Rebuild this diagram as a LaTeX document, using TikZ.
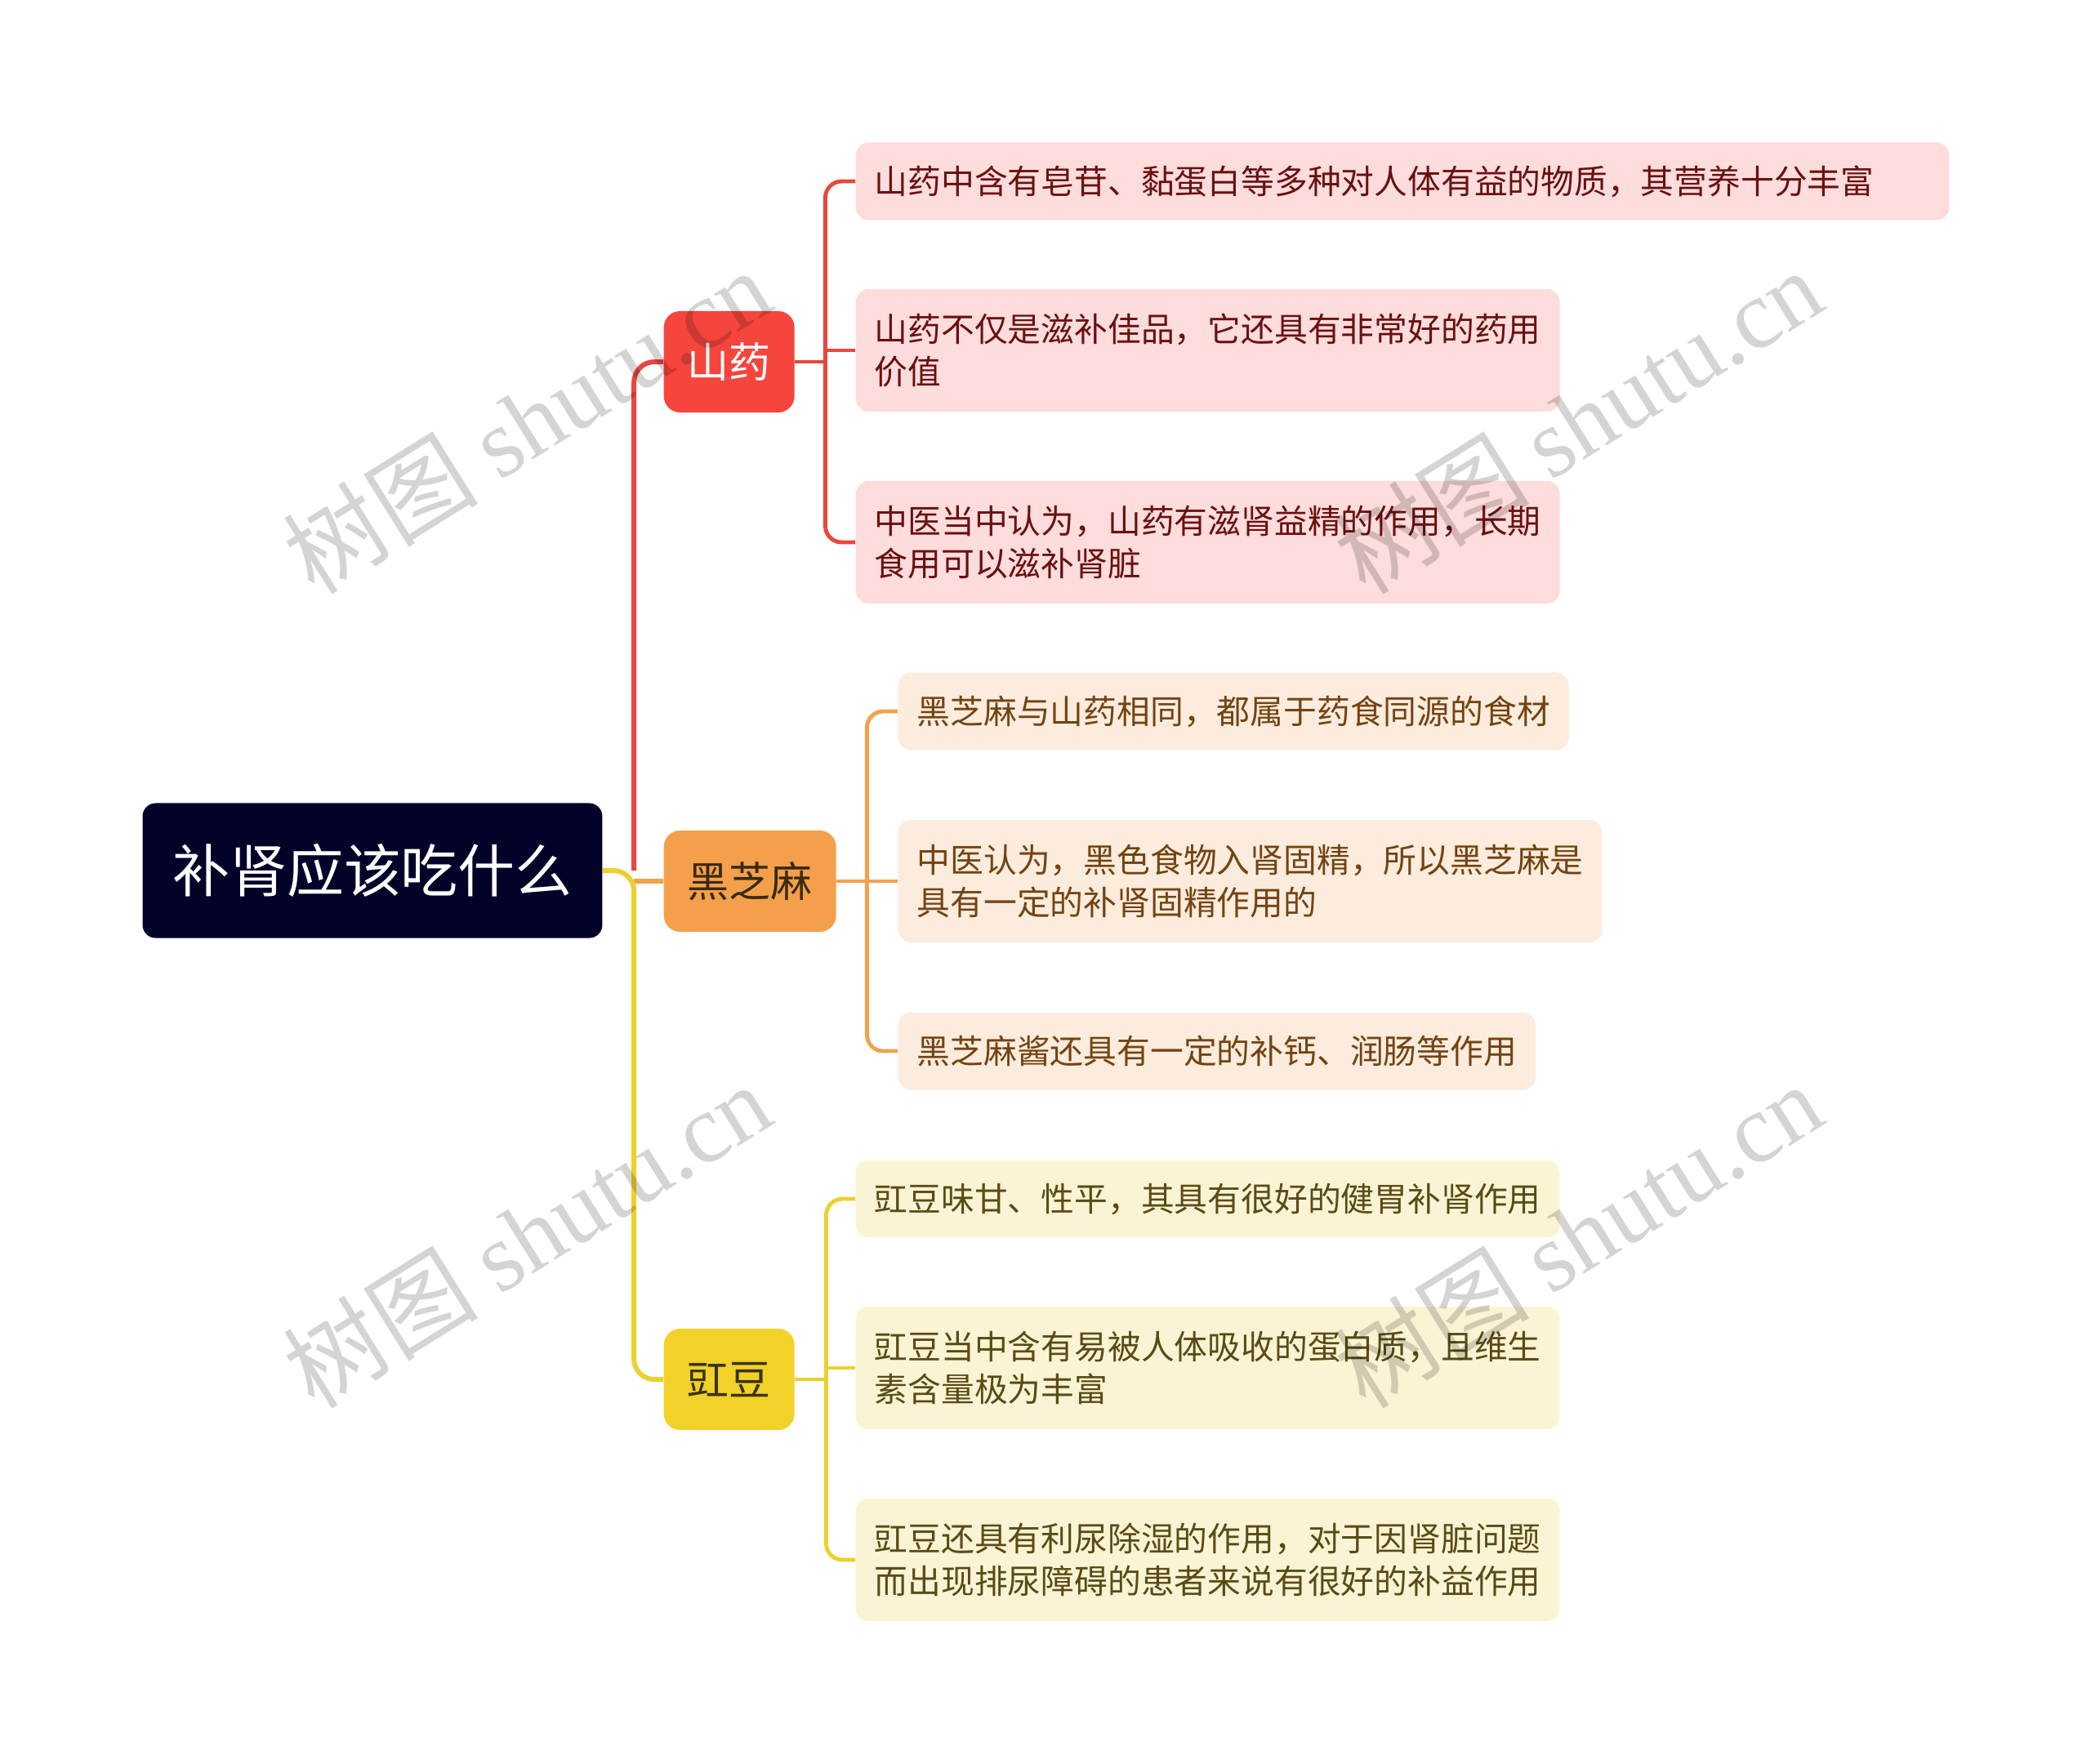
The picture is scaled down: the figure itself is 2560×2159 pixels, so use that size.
\documentclass[tikz,border=0pt]{standalone}
\usepackage{fontspec}
\setmainfont{Noto Sans CJK SC}
\newfontfamily\wmfont{Liberation Serif}
\usetikzlibrary{positioning, calc}

\definecolor{rootbg}{HTML}{03032A}
\definecolor{yambg}{HTML}{F5453D}
\definecolor{sesbg}{HTML}{F4A04B}
\definecolor{cowbg}{HTML}{F2D229}
\definecolor{leafA}{HTML}{FDDCDC}
\definecolor{leafB}{HTML}{FCECDD}
\definecolor{leafC}{HTML}{FBF4D4}
\definecolor{txtA}{HTML}{6A1010}
\definecolor{txtB}{HTML}{744312}
\definecolor{txtC}{HTML}{5A4A15}
\definecolor{catB}{HTML}{3A2A12}
\definecolor{catC}{HTML}{3B3314}
\definecolor{lineA}{HTML}{E9473F}
\definecolor{lineB}{HTML}{F0A24F}
\definecolor{lineC}{HTML}{EDD02E}

\tikzset{
  rootbox/.style = {rectangle, rounded corners=0.16cm, fill=rootbg, text=white,
                    font=\fontsize{19.9pt}{24pt}\selectfont,
                    minimum height=1.65cm, inner xsep=0.365cm},
  cat/.style     = {rectangle, rounded corners=0.2cm, anchor=west,
                    font=\fontsize{14.5pt}{18pt}\selectfont,
                    minimum height=1.24cm, inner xsep=0.29cm},
  leaf/.style    = {rectangle, rounded corners=0.16cm, align=left, anchor=west,
                    font=\fontsize{11.6pt}{14.7pt}\selectfont,
                    minimum height=0.95cm, inner xsep=0.23cm},
  tall/.style    = {minimum height=1.5cm},
  mainln/.style  = {line width=1.7pt, rounded corners=0.25cm},
  subln/.style   = {line width=1.4pt, rounded corners=0.2cm},
  wmark/.style   = {rotate=32, text=black, opacity=0.17,
                    font=\fontsize{34pt}{38pt}\selectfont}
}

\begin{document}
\begin{tikzpicture}[x=0.01cm, y=-0.01cm]

  \fill[white] (0,0) rectangle (2560,2159);
  \useasboundingbox (0,0) rectangle (2560,2159);

  % ── Root and main topics ────────────────────────────────────────────────
  \node[rootbox]                      (Root)   at (456,1066) {补肾应该吃什么};
  \node[cat, fill=yambg, text=white]  (Yam)    at (812,443)  {山药};
  \node[cat, fill=sesbg, text=catB]   (Sesame) at (812,1079) {黑芝麻};
  \node[cat, fill=cowbg, text=catC]   (Cowpea) at (812,1689) {豇豆};

  % ── 山药 ────────────────────────────────────────────────────────────────
  \node[leaf, fill=leafA, text=txtA, text width=12.92cm] (Y1) at (1047,222)
        {山药中含有皂苷、黏蛋白等多种对人体有益的物质，其营养十分丰富};
  \node[leaf, tall, fill=leafA, text=txtA] (Y2) at (1047,429)
        {山药不仅是滋补佳品，它还具有非常好的药用\\价值};
  \node[leaf, tall, fill=leafA, text=txtA] (Y3) at (1047,664)
        {中医当中认为，山药有滋肾益精的作用，长期\\食用可以滋补肾脏};

  % ── 黑芝麻 ──────────────────────────────────────────────────────────────
  \node[leaf, fill=leafB, text=txtB] (S1) at (1099,871)
        {黑芝麻与山药相同，都属于药食同源的食材};
  \node[leaf, tall, fill=leafB, text=txtB] (S2) at (1099,1079)
        {中医认为，黑色食物入肾固精，所以黑芝麻是\\具有一定的补肾固精作用的};
  \node[leaf, fill=leafB, text=txtB] (S3) at (1099,1287)
        {黑芝麻酱还具有一定的补钙、润肠等作用};

  % ── 豇豆 ────────────────────────────────────────────────────────────────
  \node[leaf, fill=leafC, text=txtC] (C1) at (1047,1468)
        {豇豆味甘、性平，其具有很好的健胃补肾作用};
  \node[leaf, tall, fill=leafC, text=txtC] (C2) at (1047,1675)
        {豇豆当中含有易被人体吸收的蛋白质，且维生\\素含量极为丰富};
  \node[leaf, tall, fill=leafC, text=txtC] (C3) at (1047,1910)
        {豇豆还具有利尿除湿的作用，对于因肾脏问题\\而出现排尿障碍的患者来说有很好的补益作用};

  % ── Connections ─────────────────────────────────────────────────────────
  \coordinate (Hub) at ($(Root.east)+(38,0)$);
  \draw[mainln, lineA] (Hub) |- (Yam.west);
  \draw[mainln, lineB] (Hub |- Sesame.west) -- (Sesame.west);
  \draw[mainln, lineC] (Root.east) -- (Hub) |- (Cowpea.west);

  % 山药 leaves
  \coordinate (YamHub) at ($(Yam.east)+(37,0)$);
  \draw[subln, lineA] (Yam.east) -- (YamHub);
  \foreach \n in {Y1,Y3} \draw[subln, lineA] (YamHub) |- (\n.west);
  \draw[subln, lineA] (YamHub |- Y2.west) -- (Y2.west);

  % 黑芝麻 leaves
  \coordinate (SesHub) at ($(Sesame.east)+(37,0)$);
  \draw[subln, lineB] (Sesame.east) -- (SesHub);
  \foreach \n in {S1,S3} \draw[subln, lineB] (SesHub) |- (\n.west);
  \draw[subln, lineB] (SesHub |- S2.west) -- (S2.west);

  % 豇豆 leaves
  \coordinate (CowHub) at ($(Cowpea.east)+(38,0)$);
  \draw[subln, lineC] (Cowpea.east) -- (CowHub);
  \foreach \n in {C1,C3} \draw[subln, lineC] (CowHub) |- (\n.west);
  \draw[subln, lineC] (CowHub |- C2.west) -- (C2.west);

  % ── Watermarks ──────────────────────────────────────────────────────────
  \node[wmark] (W1) at (645,515)  {树图 {\wmfont shutu.cn}};
  \node[wmark] (W2) at (1932,515) {树图 {\wmfont shutu.cn}};
  \node[wmark] (W3) at (645,1512) {树图 {\wmfont shutu.cn}};
  \node[wmark] (W4) at (1932,1512) {树图 {\wmfont shutu.cn}};

\end{tikzpicture}
\end{document}
